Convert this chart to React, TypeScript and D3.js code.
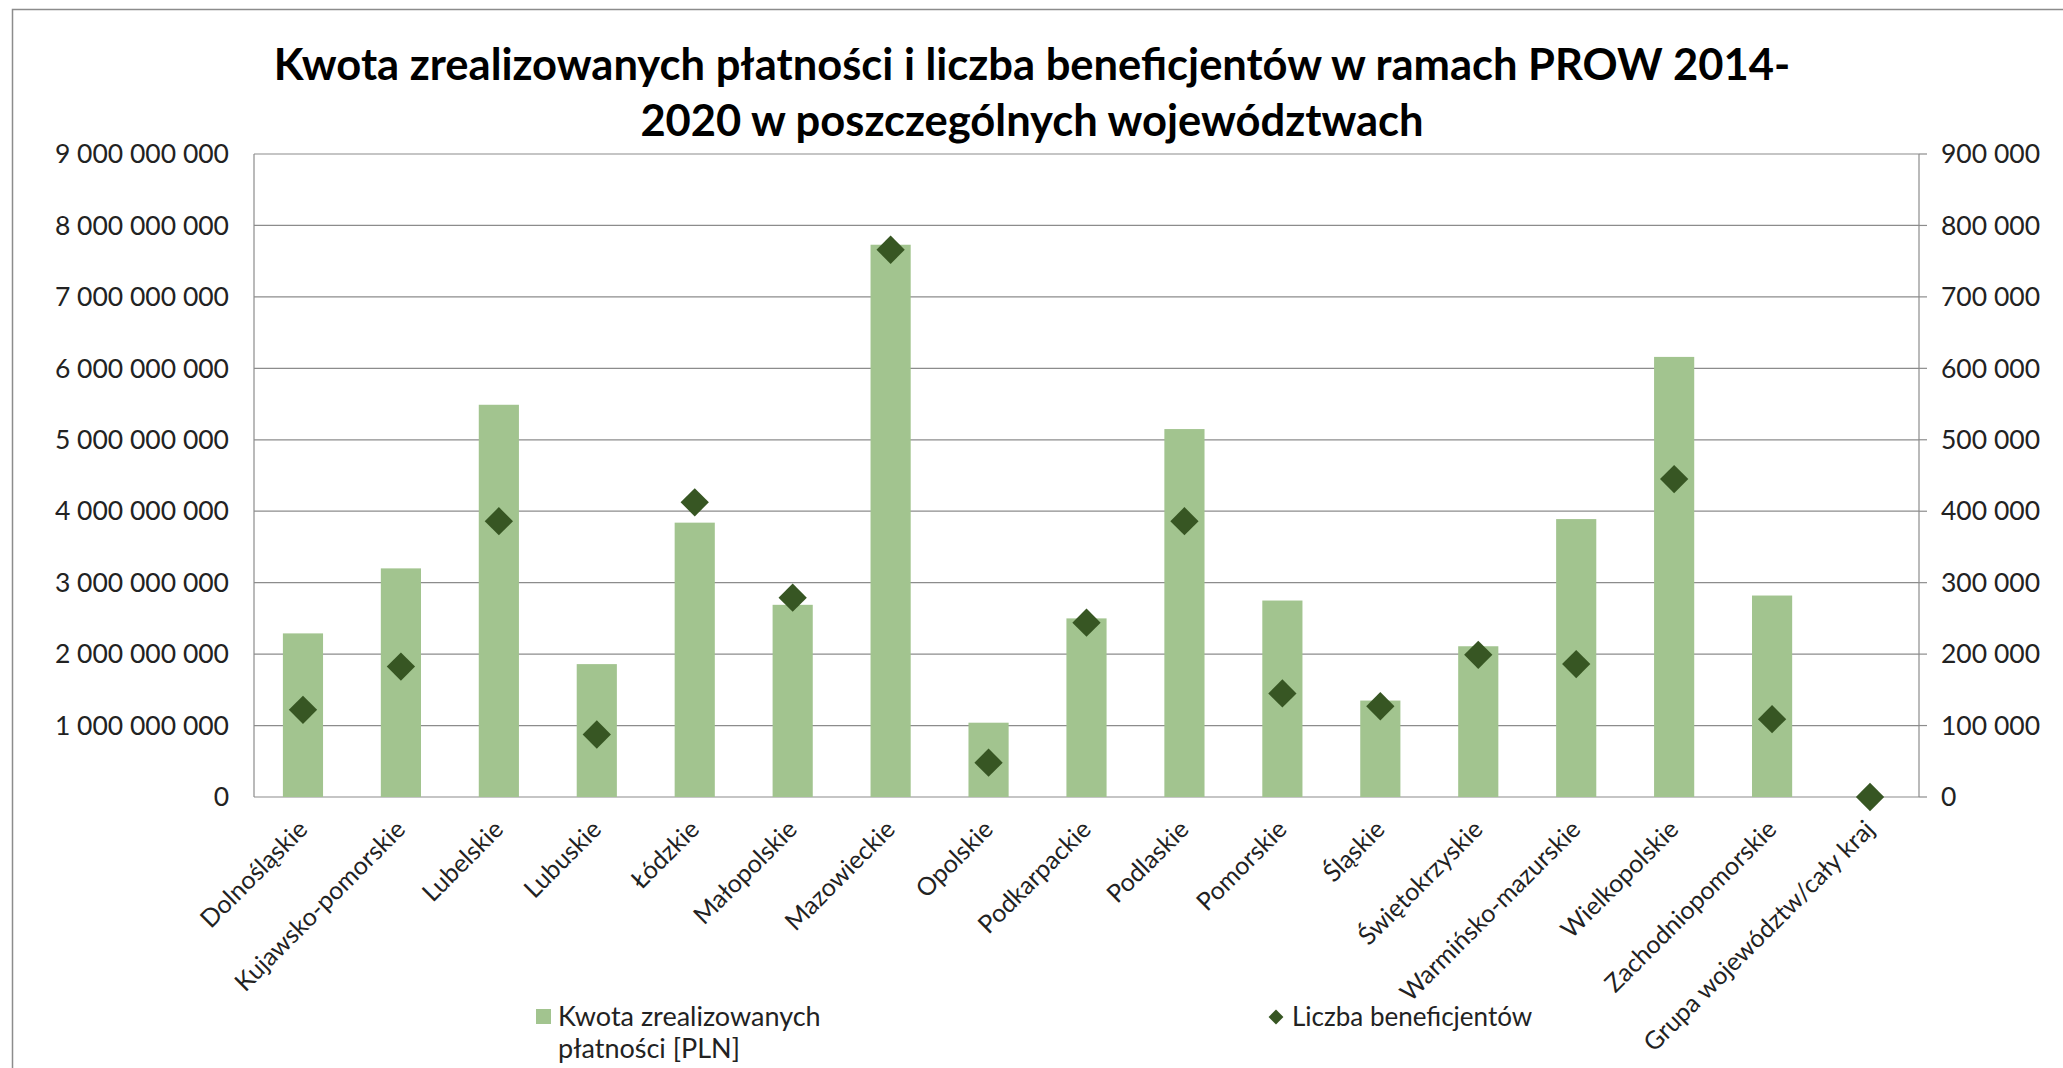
import React from 'react'
import * as d3 from 'd3'

// voivodeships on the x axis
const categories = [
  'Dolnośląskie',
  'Kujawsko-pomorskie',
  'Lubelskie',
  'Lubuskie',
  'Łódzkie',
  'Małopolskie',
  'Mazowieckie',
  'Opolskie',
  'Podkarpackie',
  'Podlaskie',
  'Pomorskie',
  'Śląskie',
  'Świętokrzyskie',
  'Warmińsko-mazurskie',
  'Wielkopolskie',
  'Zachodniopomorskie',
  'Grupa województw/cały kraj',
]

// Kwota zrealizowanych płatności [PLN]
const payments = [
  2.29e9, 3.2e9, 5.49e9, 1.86e9, 3.84e9, 2.69e9, 7.73e9, 1.04e9, 2.5e9, 5.15e9,
  2.75e9, 1.35e9, 2.11e9, 3.89e9, 6.16e9, 2.82e9, 0,
]

// Liczba beneficjentów
const beneficiaries = [
  122000, 182500, 386000, 87500, 412500, 279000, 766000, 48000, 244000, 386000,
  145000, 127000, 199000, 186000, 445000, 109000, 0,
]

const leftTicks = d3.range(0, 9e9 + 1, 1e9)
const rightTicks = d3.range(0, 900001, 100000)

const titleLines = [
  'Kwota zrealizowanych płatności i liczba beneficjentów w ramach PROW 2014-',
  '2020 w poszczególnych województwach',
]

const legendLabels = ['Kwota zrealizowanych', 'płatności [PLN]', 'Liczba beneficjentów']

const width = 2063
const height = 1068
const margin = { top: 154, right: 144, bottom: 271, left: 254 }

const barColor = '#A2C48F'
const markerColor = '#375623'
const gridColor = '#8C8C8C'
const font = 'Lato, "Open Sans", sans-serif'

// numbers like 9 000 000 000
const fmt = (v: number) => d3.format(',')(v).replace(/,/g, ' ')

const App = () => {
  const x = d3
    .scaleBand()
    .domain(categories)
    .range([margin.left, width - margin.right])
    .paddingInner(0.59)
    .paddingOuter(0.295)

  const xc = d3
    .scaleBand()
    .domain(categories)
    .range([margin.left, width - margin.right])

  const yLeft = d3
    .scaleLinear()
    .domain([0, 9e9])
    .range([height - margin.bottom, margin.top])

  const yRight = d3
    .scaleLinear()
    .domain([0, 900000])
    .range([height - margin.bottom, margin.top])

  const diamond = d3.symbol(d3.symbolSquare, 400)()
  const smallDiamond = d3.symbol(d3.symbolSquare, 110)()

  const x0 = margin.left
  const x1 = width - margin.right
  const yBase = height - margin.bottom

  return (
    <svg
      width={width}
      height={height}
      style={{ position: 'absolute', left: 0, top: 0, background: '#fff' }}
      fontFamily={font}
    >
      {/* frame */}
      <rect x={12.5} y={9.5} width={2080} height={1100} fill="none" stroke="#8C8C8C" strokeWidth={1.5} />

      {/* title */}
      {titleLines.map((t, i) => (
        <text
          key={t}
          x={1032}
          y={80 + i * 56}
          textAnchor="middle"
          fontSize={43.5}
          fontWeight={700}
          fill="#000"
        >
          {t}
        </text>
      ))}

      {/* grid lines */}
      {leftTicks.map((t) => (
        <line key={t} x1={x0} x2={x1} y1={yLeft(t)} y2={yLeft(t)} stroke={gridColor} strokeWidth={1.2} />
      ))}
      {/* right axis tick marks */}
      {rightTicks.map((t) => (
        <line key={t} x1={x1} x2={x1 + 8} y1={yRight(t)} y2={yRight(t)} stroke={gridColor} strokeWidth={1.2} />
      ))}
      <line x1={x0} x2={x0} y1={margin.top} y2={yBase} stroke={gridColor} strokeWidth={1.2} />
      <line x1={x1} x2={x1} y1={margin.top} y2={yBase} stroke={gridColor} strokeWidth={1.2} />

      {/* left labels */}
      {leftTicks.map((t) => (
        <text key={t} x={229} y={yLeft(t)} dy="0.35em" textAnchor="end" fontSize={26.5} fill="#222">
          {fmt(t)}
        </text>
      ))}
      {/* right labels */}
      {rightTicks.map((t) => (
        <text key={t} x={1941} y={yRight(t)} dy="0.35em" textAnchor="start" fontSize={26.5} fill="#222">
          {fmt(t)}
        </text>
      ))}

      {/* bars */}
      {categories.map((c, i) => (
        <rect
          key={c}
          x={x(c)}
          y={yLeft(payments[i])}
          width={x.bandwidth()}
          height={yBase - yLeft(payments[i])}
          fill={barColor}
        />
      ))}

      {/* markers */}
      {categories.map((c, i) => (
        <path
          key={c}
          d={diamond!}
          transform={`translate(${(xc(c) ?? 0) + xc.bandwidth() / 2},${yRight(beneficiaries[i])}) rotate(45)`}
          fill={markerColor}
        />
      ))}

      {/* category labels */}
      {categories.map((c) => (
        <text
          key={c}
          transform={`translate(${(xc(c) ?? 0) + xc.bandwidth() / 2 + 6},${yBase + 34}) rotate(-45)`}
          textAnchor="end"
          fontSize={25}
          fill="#222"
        >
          {c}
        </text>
      ))}

      {/* legend */}
      <rect x={536} y={1009} width={15} height={15} fill={barColor} />
      <text x={558} y={1026} fontSize={27} fill="#222">
        {legendLabels[0]}
      </text>
      <text x={558} y={1058} fontSize={27} fill="#222">
        {legendLabels[1]}
      </text>
      <path d={smallDiamond!} transform="translate(1276,1017) rotate(45)" fill={markerColor} />
      <text x={1292} y={1026} fontSize={26} fill="#222">
        {legendLabels[2]}
      </text>
    </svg>
  )
}

export default App
